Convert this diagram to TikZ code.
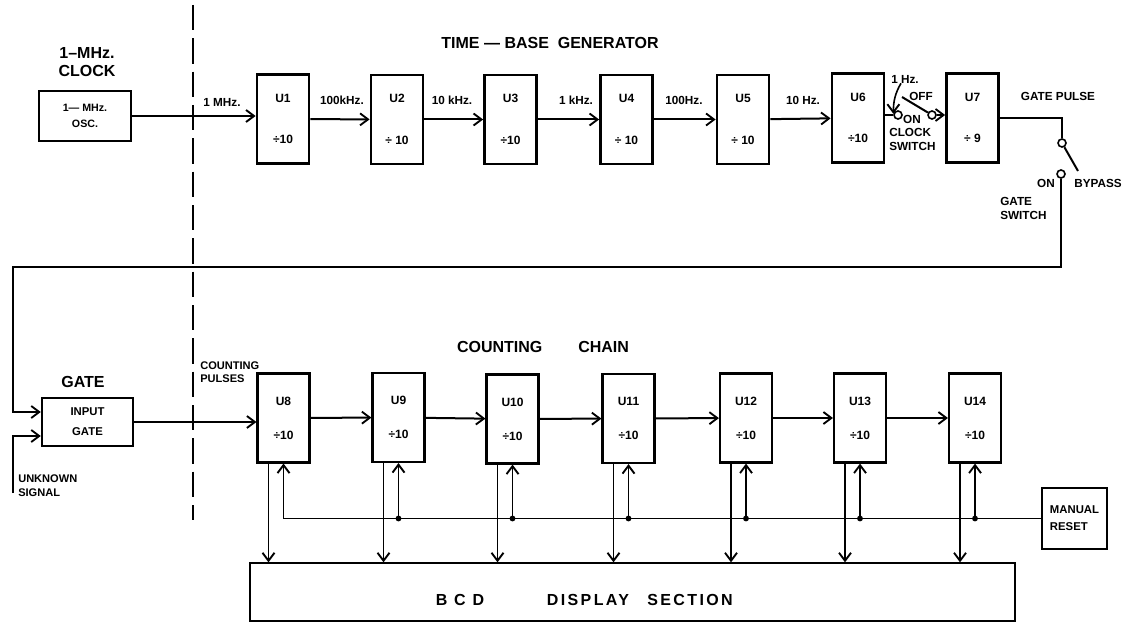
\documentclass[tikz,border=0pt]{standalone}
\usepackage{fontspec}
\setmainfont{Liberation Sans}
\usetikzlibrary{arrows.meta}
\begin{document}
\begin{tikzpicture}[x=0.75pt,y=-0.75pt,
  tb/.style={draw,line width=2.1pt,minimum width=39pt,minimum height=66.75pt,inner sep=0pt,align=center,font=\bfseries\fontsize{9}{10}\selectfont},
  cb/.style={tb,line width=1.6pt},
  arr/.style={line width=1.5pt,-{Straight Barb[length=6pt,width=9pt,line width=1.4pt]}},
  wire/.style={line width=1.5pt},
  lbl/.style={font=\bfseries\fontsize{8.8}{10.5}\selectfont,inner sep=0pt},
  big/.style={font=\bfseries\fontsize{12}{13.5}\selectfont,inner sep=0pt,align=center},
  contact/.style={circle,draw,line width=1.2pt,fill=white,minimum size=6pt,inner sep=0pt},
  ]
\useasboundingbox (0,0) rectangle (1130,624);

% separator
\draw[line width=1.8pt,dash pattern=on 19pt off 6pt] (193,5) -- (193,520);

% clock
\node[big] (clkt) at (87,62) {1–MHz.\\CLOCK};
\node[draw,line width=2pt,minimum width=69pt,minimum height=37.5pt,align=center,
      font=\bfseries\fontsize{8}{12}\selectfont] (OSC) at (85,116) {1— MHz.\\OSC.};

% time base
\node[big] (tbt) at (550,43) {TIME — BASE\ \ GENERATOR};
\node[tb] (U1) at (283,119) {U1\\[21pt]÷10};
\node[tb] (U2) at (397,119.5) {U2\\[21pt]÷ 10};
\node[tb] (U3) at (510.5,119.5) {U3\\[21pt]÷10};
\node[tb] (U4) at (626.5,119.5) {U4\\[21pt]÷ 10};
\node[tb] (U5) at (743,119.5) {U5\\[21pt]÷ 10};
\node[tb] (U6) at (858,118) {U6\\[21pt]÷10};
\node[tb] (U7) at (972.5,118) {U7\\[21pt]÷ 9};

\draw[arr] (OSC.east) -- (OSC.east -| U1.west);
\foreach \a/\b in {U1/U2,U2/U3,U3/U4,U4/U5,U5/U6} \draw[arr] (\a) -- (\b);

\node[lbl] (f1) at (222,102) {1 MHz.};
\node[lbl] (f2) at (342,100) {100kHz.};
\node[lbl] (f3) at (452,100) {10 kHz.};
\node[lbl] (f4) at (576,100) {1 kHz.};
\node[lbl] (f5) at (684,100) {100Hz.};
\node[lbl] (f6) at (803,100) {10 Hz.};

% clock switch
\node[contact] (c1) at (898,115) {};
\node[contact] (c2) at (932,115) {};
\coordinate (arm1) at (902,97);
\draw[wire] (U6.east |- c1) -- (c1);
\draw[wire] (arm1) -- (c2);
\draw[arr] (c2) -- (c2 -| U7.west);
\node[lbl] (hz) at (905,79) {1 Hz.};
\node[lbl] (off) at (921,96) {OFF};
\node[lbl] (on1) at (912,119) {ON};
\node[lbl,anchor=west,align=left] (csw) at (889,139) {CLOCK\\SWITCH};
\draw[arr,line width=1.2pt] ([xshift=-3pt]hz.south) .. controls +(-6,10) and +(0,-12) .. (c1.165);

% gate switch
\node[contact] (g1) at (1062,143) {};
\node[contact] (g2) at (1061,174) {};
\coordinate (garm) at (1078,171);
\draw[wire] (U7.east) -| (g1);
\draw[wire] (g1) -- (garm);
\node[lbl] (gpl) at (1058,96) {GATE PULSE};
\node[lbl] (byp) at (1098,183) {BYPASS};
\node[lbl] (on2) at (1046,183) {ON};
\node[lbl,anchor=west,align=left] (gsw) at (1000,208) {GATE\\SWITCH};

% gate
\node[big] (gatet) at (83,382) {GATE};
\node[draw,line width=1.8pt,minimum width=68.25pt,minimum height=36pt,align=center,
      font=\bfseries\fontsize{8.5}{15}\selectfont] (Gate) at (87.5,422) {INPUT\\GATE};
\coordinate (gin1) at ([yshift=7.5pt]Gate.west);
\coordinate (gin2) at ([yshift=-10.5pt]Gate.west);
\coordinate (retL) at (13,267);
\coordinate (usig) at (13,493);
\draw[arr] (g2) |- (retL) |- (gin1);
\draw[arr] (usig) |- (gin2);
\node[lbl,anchor=west,align=left,font=\bfseries\fontsize{8.3}{10.5}\selectfont] (uns) at (18,486) {UNKNOWN\\SIGNAL};
\node[lbl,anchor=west,align=left,font=\bfseries\fontsize{8.3}{9.75}\selectfont] (cpl) at (200,372.5) {COUNTING\\PULSES};

% counting chain
\node[big] (cct) at (543,347) {COUNTING\hspace{27pt}CHAIN};
\node[cb] (U8) at (283.5,418) {U8\\[15.5pt]÷10};
\node[cb] (U9) at (398.5,417.5) {U9\\[15.5pt]÷10};
\node[cb] (U10) at (512.5,419) {U10\\[15.5pt]÷10};
\node[cb] (U11) at (628.5,418.5) {U11\\[15.5pt]÷10};
\node[cb] (U12) at (746,418) {U12\\[15.5pt]÷10};
\node[cb] (U13) at (860,418) {U13\\[15.5pt]÷10};
\node[cb] (U14) at (975,418) {U14\\[15.5pt]÷10};
\draw[arr] (Gate.east) -- (Gate.east -| U8.west);
\foreach \a/\b in {U8/U9,U9/U10,U10/U11,U11/U12,U12/U13,U13/U14} \draw[arr] (\a) -- (\b);

% display and reset
\node[draw,line width=1pt,minimum width=573.75pt,minimum height=43.5pt] (BCD) at (632.5,592) {};
\begin{scope}[every node/.style={inner sep=0pt,font=\bfseries\fontsize{12}{14}\selectfont\addfontfeature{LetterSpace=15}}]
\node (bcd1) at (460,600) {B C D};
\node (bcd2) at (588,600) {DISPLAY};
\node (bcd3) at (690,600) {SECTION};
\end{scope}
\node[draw,line width=2.2pt,minimum width=48.75pt,minimum height=45.75pt,align=left,
      inner sep=2pt,font=\bfseries\fontsize{8.5}{12.75}\selectfont] (MR) at (1074.5,518.5) {MANUAL\\RESET};

\foreach \u in {U8,U9,U10,U11,U12,U13,U14} {
  \path ([xshift=-11.25pt]\u.south) coordinate (d\u);
  \draw[arr,line width=1.4pt] (d\u) -- (d\u |- BCD.north);
}
\draw[arr,line width=1.4pt] (MR.west) -| (U8.south);
\foreach \u in {U9,U10,U11,U12,U13,U14} {
  \draw[arr,line width=1.4pt] (\u.south |- MR.west) -- (\u.south);
  \fill (\u.south |- MR.west) circle (2.2pt);
}
\end{tikzpicture}
\end{document}
